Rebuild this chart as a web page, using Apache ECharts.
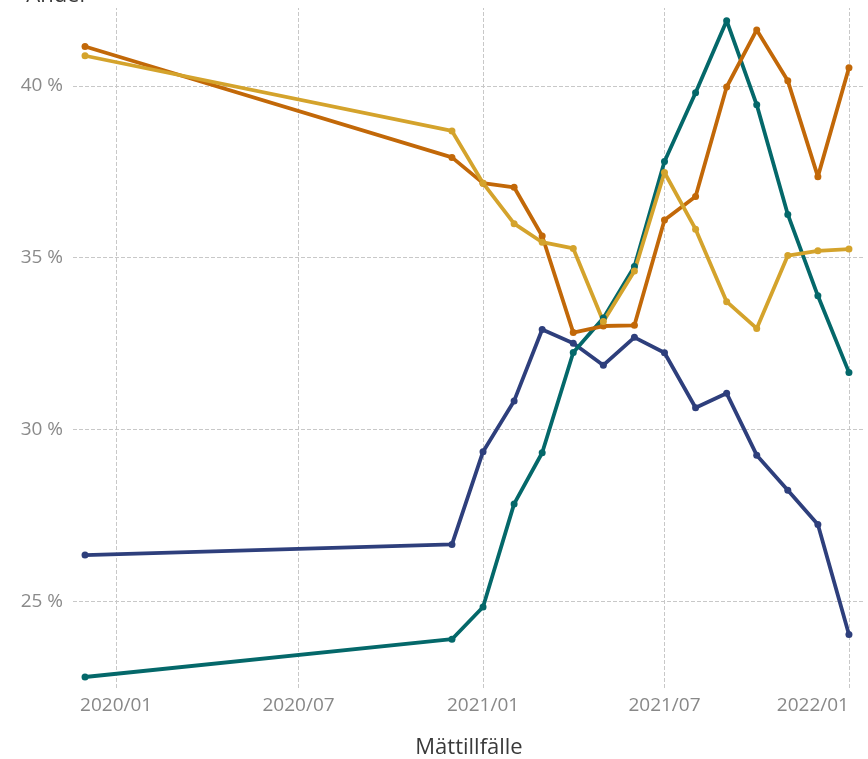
<!DOCTYPE html>
<html>
<head>
<meta charset="utf-8">
<script src="https://cdn.jsdelivr.net/npm/echarts@6/dist/echarts.min.js"></script>
<style>
html,body{margin:0;padding:0;background:#fff;}
#chart{width:868px;height:759px;}
</style>
</head>
<body>
<div id="chart"></div>
<script>
const dates = ['2019-12-01','2020-12-01','2021-01-01','2021-02-01','2021-03-01','2021-04-01','2021-05-01','2021-06-01','2021-07-01','2021-08-01','2021-09-01','2021-10-01','2021-11-01','2021-12-01','2022-01-01'];
const navyValues   = [26.34, 26.65, 29.35, 30.83, 32.91, 32.51, 31.87, 32.68, 32.23, 30.63, 31.05, 29.25, 28.23, 27.23, 24.03];
const tealValues   = [22.79, 23.89, 24.83, 27.83, 29.32, 32.24, 33.24, 34.74, 37.80, 39.80, 41.90, 39.45, 36.26, 33.89, 31.66];
const orangeValues = [41.15, 37.92, 37.17, 37.05, 35.63, 32.82, 33.01, 33.03, 36.10, 36.78, 39.97, 41.63, 40.15, 37.36, 40.53];
const goldValues   = [40.88, 38.69, 37.17, 35.99, 35.45, 35.27, 33.14, 34.61, 37.48, 35.83, 33.72, 32.94, 35.06, 35.20, 35.25];
const xTickDates = ['2020-01-01','2020-07-01','2021-01-01','2021-07-01','2022-01-01'];
const xAxisTitle = 'Mättillfälle';
const yAxisTitle = 'Andel';

function toTime(d){ const p=d.split('-'); return Date.UTC(+p[0], +p[1]-1, +p[2]); }
function pairs(vals){ return dates.map((d,i)=>[toTime(d), vals[i]]); }
const tickTimes = xTickDates.map(toTime);

const chart = echarts.init(document.getElementById('chart'));
const font = '"Open Sans", "Noto Sans", sans-serif';
const gridTop = 8, gridBottom = 71;
const plotH = 759 - gridTop - gridBottom;
function mk(name, vals, color){
  return {
    name, type:'line', data: pairs(vals),
    symbol:'circle', symbolSize:7, showSymbol:true,
    lineStyle:{width:3.8, color}, itemStyle:{color},
    emphasis:{disabled:true}
  };
}
chart.setOption({
  animation:false,
  textStyle:{fontFamily:font},
  grid:{left:73, right:3, top:gridTop, bottom:gridBottom, containLabel:false, outerBoundsMode:'none'},
  xAxis:{
    type:'value',
    min: Date.UTC(2019,10,19),
    max: Date.UTC(2022,0,17),
    name: xAxisTitle, nameLocation:'middle', nameGap:49,
    nameTextStyle:{fontSize:22, color:'#3a3a3a', fontFamily:font},
    axisLine:{show:false},
    axisTick:{show:true, customValues: tickTimes, inside:true, length: plotH,
      lineStyle:{color:'#c8c8c8', type:'dashed', width:1}},
    axisLabel:{customValues: tickTimes, color:'#888', fontSize:19, margin:8, fontFamily:font,
      alignMaxLabel:'right', showMaxLabel:true, showMinLabel:true,
      formatter: v => { const d=new Date(v); return d.getUTCFullYear()+'/'+String(d.getUTCMonth()+1).padStart(2,'0'); }},
    splitLine:{show:false}
  },
  yAxis:{
    type:'value', min:22.47, max:42.27, splitNumber:4, minInterval:5, maxInterval:5,
    name: yAxisTitle, nameLocation:'end', nameGap:1,
    nameTextStyle:{fontSize:22, color:'#3a3a3a', align:'right', padding:[0,-12,0,0], fontFamily:font},
    axisLine:{show:false}, axisTick:{show:false},
    axisLabel:{showMinLabel:false, showMaxLabel:false, color:'#8a8a8a', fontSize:19, margin:10, fontFamily:font,
      formatter: v => v + ' %'},
    splitLine:{show:true, showMinLine:false, showMaxLine:false, lineStyle:{color:'#c8c8c8', type:'dashed', width:1}}
  },
  series:[
    mk('navy', navyValues, '#2e3f7c'),
    mk('teal', tealValues, '#04686a'),
    mk('orange', orangeValues, '#c26808'),
    mk('gold', goldValues, '#d4a32c')
  ]
});
</script>
</body>
</html>
